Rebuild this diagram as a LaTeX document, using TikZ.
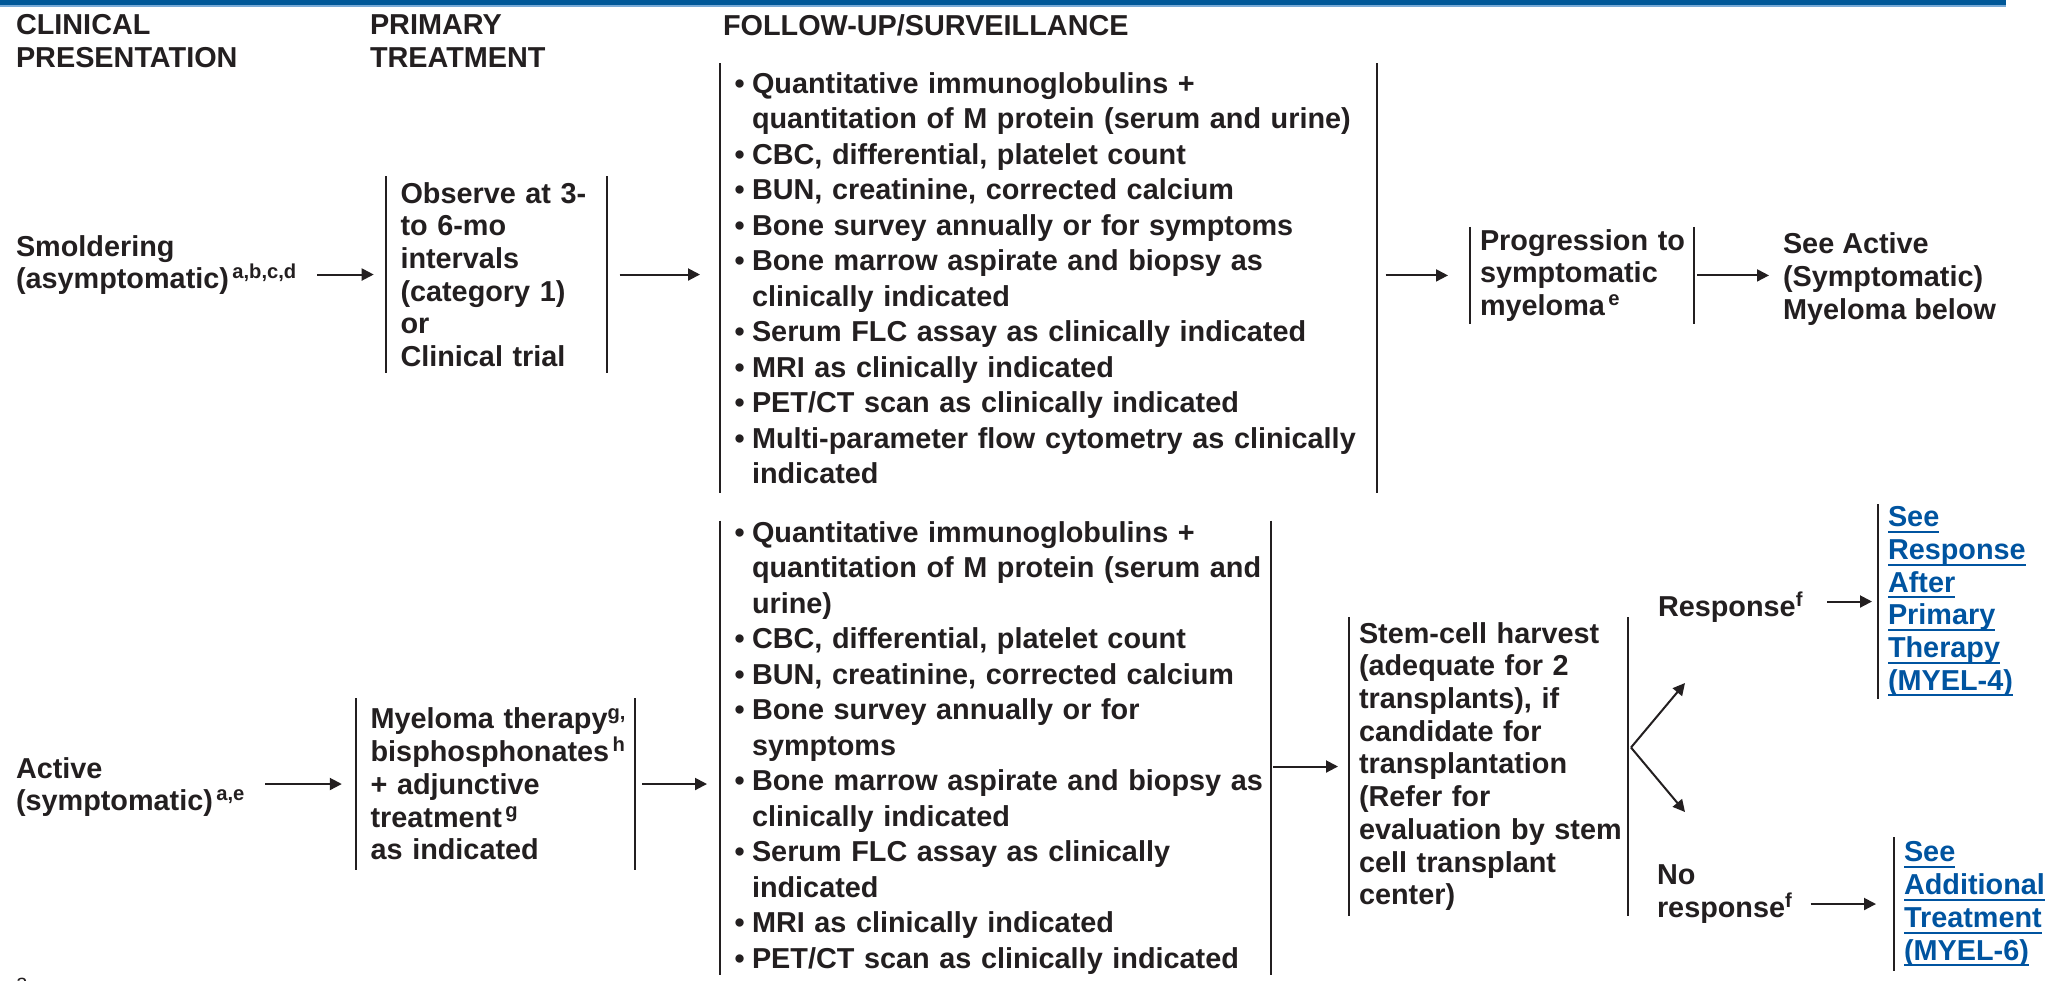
\documentclass[tikz,border=0pt]{standalone}
\usepackage{fontspec}
\setmainfont{Liberation Sans}
\usetikzlibrary{arrows.meta}
\definecolor{txtcol}{RGB}{35,31,32}
\definecolor{nccnblue}{RGB}{0,88,152}
\definecolor{nccnlt}{RGB}{120,170,215}
\definecolor{linkblue}{RGB}{0,84,160}
\newlength{\lnkw}
\newcommand{\lnk}[1]{\leavevmode\settowidth{\lnkw}{#1}\rlap{\rule[-1.75pt]{\lnkw}{0.55pt}}#1}
\newcommand{\itm}{\makebox[0.175cm][l]{\textbullet}}
\newcommand{\cnt}{\hspace*{0.175cm}}
\tikzset{every picture/.style={line width=0.57pt, txtcol}}
\tikzset{
  hd/.style={anchor=west, inner sep=0pt, align=left, font=\fontsize{8.2}{9.4}\selectfont\bfseries},
  txt/.style={anchor=west, inner sep=0pt, align=left, font=\fontsize{8.2}{9.3}\selectfont\bfseries},
  barbox/.style={txt, execute at begin node={\leftskip=#1\relax}},
  lst/.style={barbox=0.135cm, font=\fontsize{8.2}{10.1}\selectfont\bfseries},
  arr/.style={-{Triangle[length=0.12cm,width=0.12cm]}}
}

\begin{document}
\begin{tikzpicture}[x=1cm,y=-1cm]
\useasboundingbox (0,0) rectangle (20.49,9.80);
\fill[nccnblue] (0,0) rectangle (20.06,0.05);
\fill[nccnlt] (0,0.05) rectangle (20.06,0.065);
\node[hd] (hdcp) at (0.15,0.415) {CLINICAL\\PRESENTATION};
\node[hd] (hdpt) at (3.69,0.415) {PRIMARY\\TREATMENT};
\node[hd] (hdfu) at (7.22,0.25) {FOLLOW-UP/SURVEILLANCE};
% smoldering row
\node[txt] (smol) at (0.15,2.65) {Smoldering\\(asymptomatic)\textsuperscript{\,a,b,c,d}};
\node[barbox=0.138cm, text width=2.188cm, minimum height=1.95cm] (obs) at (3.857,2.745)
  {Observe at 3-\\to 6-mo\\intervals\\(category 1)\\or\\Clinical trial};
\node[lst, text width=6.545cm, minimum height=4.28cm] (fu1) at (7.20,2.78)
  {\itm Quantitative immunoglobulins +\\
   \cnt quantitation of M protein (serum and urine)\\
   \itm CBC, differential, platelet count\\
   \itm BUN, creatinine, corrected calcium\\
   \itm Bone survey annually or for symptoms\\
   \itm Bone marrow aspirate and biopsy as\\
   \cnt clinically indicated\\
   \itm Serum FLC assay as clinically indicated\\
   \itm MRI as clinically indicated\\
   \itm PET/CT scan as clinically indicated\\
   \itm Multi-parameter flow cytometry as clinically\\
   \cnt indicated};
\node[barbox=0.095cm, text width=2.229cm, minimum height=0.95cm] (prog) at (14.695,2.754)
  {Progression to\\symptomatic\\myeloma\textsuperscript{\,e}};
\node[txt] (seeact) at (17.82,2.79) {See Active\\(Symptomatic)\\Myeloma below};
% active row
\node[txt] (act) at (0.15,7.87) {Active\\(symptomatic)\textsuperscript{\,a,e}};
\node[barbox=0.138cm, text width=2.775cm, minimum height=1.70cm] (myel) at (3.558,7.84)
  {Myeloma therapy\textsuperscript{g,}\\bisphosphonates\textsuperscript{\,h}\\+ adjunctive\\treatment\textsuperscript{\,g}\\as indicated};
\node[lst, text width=5.49cm, minimum height=4.51cm] (fu2) at (7.20,7.48)
  {\itm Quantitative immunoglobulins +\\
   \cnt quantitation of M protein (serum and\\
   \cnt urine)\\
   \itm CBC, differential, platelet count\\
   \itm BUN, creatinine, corrected calcium\\
   \itm Bone survey annually or for\\
   \cnt symptoms\\
   \itm Bone marrow aspirate and biopsy as\\
   \cnt clinically indicated\\
   \itm Serum FLC assay as clinically\\
   \cnt indicated\\
   \itm MRI as clinically indicated\\
   \itm PET/CT scan as clinically indicated};
\node[barbox=0.09cm, text width=2.77cm, minimum height=2.97cm] (stem) at (13.49,7.665)
  {Stem-cell harvest\\(adequate for 2\\transplants), if\\candidate for\\transplantation\\(Refer for\\evaluation by stem\\cell transplant\\center)};
\coordinate (fk) at (16.31,7.475);
\coordinate (fkup) at (16.85,6.83);
\coordinate (fkdn) at (16.85,8.12);
\node[txt] (resp) at (16.57,6.07) {Response\textsuperscript{f}};
\node[txt] (nores) at (16.56,8.94) {No\\response\textsuperscript{f}};
\node[barbox=0.09cm, text width=1.65cm, minimum height=1.93cm, text=linkblue] (lk1) at (18.78,6.015)
  {\lnk{See}\\\lnk{Response}\\\lnk{After}\\\lnk{Primary}\\\lnk{Therapy}\\\lnk{(MYEL-4)}};
\node[barbox=0.09cm, text width=1.55cm, minimum height=1.32cm, text=linkblue] (lk2) at (18.94,9.04)
  {\lnk{See}\\\lnk{Additional}\\\lnk{Treatment}\\\lnk{(MYEL-6)}};
\node[anchor=north west, inner sep=0pt, font=\fontsize{6}{7}\selectfont] (fna) at (0.15,9.77) {a};
% bars
\foreach \n in {obs,fu1,prog,myel,fu2,stem}{
  \draw (\n.north west) -- (\n.south west) (\n.north east) -- (\n.south east);
}
\foreach \n in {lk1,lk2}{\draw (\n.north west) -- (\n.south west);}
% arrows
\draw[arr, shorten <=0.18cm, shorten >=0.12cm] (smol.east |- obs.west) -- (obs.west);
\draw[arr, shorten <=0.13cm, shorten >=0.20cm] (obs.east) -- (fu1.west |- obs.east);
\draw[arr, shorten <=0.09cm, shorten >=0.215cm] (fu1.east |- prog.west) -- (prog.west);
\draw[arr, shorten <=0.03cm, shorten >=0.13cm] (prog.east) -- (prog.east -| seeact.west);
\draw[arr, shorten <=0.18cm, shorten >=0.14cm] (act.east |- myel.west) -- (myel.west);
\draw[arr, shorten <=0.07cm, shorten >=0.13cm] (myel.east) -- (myel.east -| fu2.west);
\draw[arr, shorten <=0.02cm, shorten >=0.11cm] (fu2.east |- stem.west) -- (stem.west);
\draw[arr] (fk) -- (fkup);
\draw[arr] (fk) -- (fkdn);
\draw[arr, shorten <=0.22cm, shorten >=0.06cm] (resp.east |- lk1.west) -- (lk1.west);
\draw[arr, shorten <=0.16cm, shorten >=0.18cm] (nores.east |- lk2.west) -- (lk2.west);
\end{tikzpicture}
\end{document}
